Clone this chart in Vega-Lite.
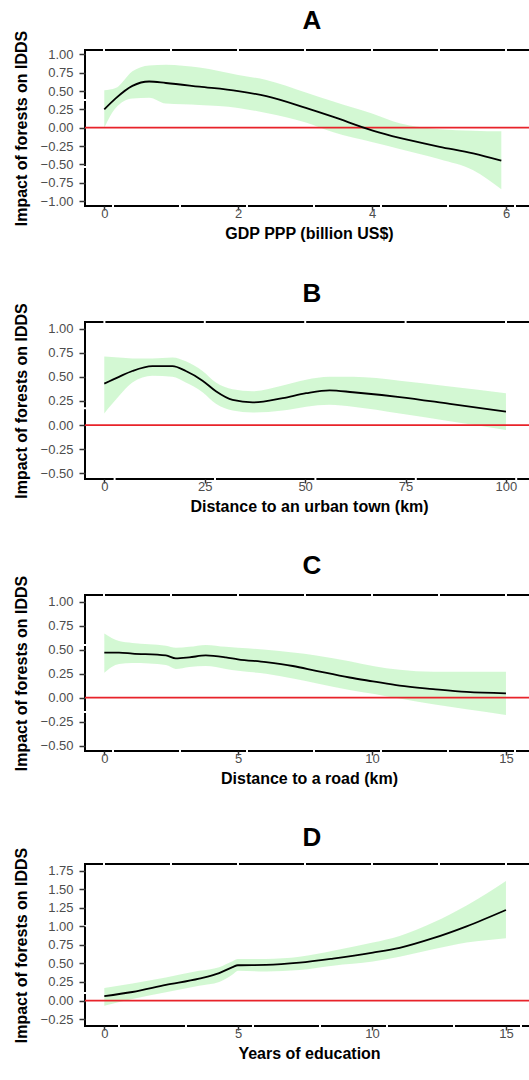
{
  "$schema": "https://vega.github.io/schema/vega-lite/v6.json",
  "padding": {"left": 12, "top": 7, "right": 0, "bottom": 0},
  "background": "white",
  "datasets": {
    "a": [
      {"x": 0, "fit": 0.25, "lo": 0.0, "hi": 0.51},
      {"x": 0.17, "fit": 0.40, "lo": 0.27, "hi": 0.54},
      {"x": 0.42, "fit": 0.57, "lo": 0.40, "hi": 0.77},
      {"x": 0.67, "fit": 0.63, "lo": 0.41, "hi": 0.85},
      {"x": 0.92, "fit": 0.61, "lo": 0.33, "hi": 0.86},
      {"x": 1.42, "fit": 0.56, "lo": 0.31, "hi": 0.82},
      {"x": 2.0, "fit": 0.50, "lo": 0.27, "hi": 0.72},
      {"x": 2.42, "fit": 0.43, "lo": 0.20, "hi": 0.65},
      {"x": 3.01, "fit": 0.27, "lo": 0.07, "hi": 0.48},
      {"x": 3.41, "fit": 0.15, "lo": -0.06, "hi": 0.36},
      {"x": 4.01, "fit": -0.04, "lo": -0.20, "hi": 0.19},
      {"x": 4.41, "fit": -0.14, "lo": -0.29, "hi": 0.06},
      {"x": 5.01, "fit": -0.26, "lo": -0.43, "hi": -0.02},
      {"x": 5.51, "fit": -0.35, "lo": -0.58, "hi": -0.04},
      {"x": 5.93, "fit": -0.45, "lo": -0.84, "hi": -0.05}
    ],
    "b": [
      {"x": 0, "fit": 0.43, "lo": 0.12, "hi": 0.71},
      {"x": 3.66, "fit": 0.50, "lo": 0.30, "hi": 0.70},
      {"x": 6.99, "fit": 0.56, "lo": 0.44, "hi": 0.69},
      {"x": 11.98, "fit": 0.61, "lo": 0.51, "hi": 0.69},
      {"x": 16.97, "fit": 0.61, "lo": 0.50, "hi": 0.70},
      {"x": 20.3, "fit": 0.56, "lo": 0.44, "hi": 0.66},
      {"x": 24.46, "fit": 0.46, "lo": 0.34, "hi": 0.56},
      {"x": 27.79, "fit": 0.35, "lo": 0.22, "hi": 0.44},
      {"x": 31.95, "fit": 0.26, "lo": 0.15, "hi": 0.37},
      {"x": 36.94, "fit": 0.235, "lo": 0.13, "hi": 0.35},
      {"x": 44.43, "fit": 0.28, "lo": 0.15, "hi": 0.41},
      {"x": 50.25, "fit": 0.33, "lo": 0.19, "hi": 0.47},
      {"x": 56.08, "fit": 0.36, "lo": 0.21, "hi": 0.50},
      {"x": 61.9, "fit": 0.34, "lo": 0.19, "hi": 0.50},
      {"x": 73.55, "fit": 0.29, "lo": 0.12, "hi": 0.46},
      {"x": 86.03, "fit": 0.22, "lo": 0.04, "hi": 0.40},
      {"x": 100, "fit": 0.14, "lo": -0.05, "hi": 0.33}
    ],
    "c": [
      {"x": 0, "fit": 0.47, "lo": 0.26, "hi": 0.67},
      {"x": 0.55, "fit": 0.47, "lo": 0.35, "hi": 0.59},
      {"x": 1.05, "fit": 0.46, "lo": 0.36, "hi": 0.57},
      {"x": 2.30, "fit": 0.44, "lo": 0.34, "hi": 0.54},
      {"x": 2.67, "fit": 0.41, "lo": 0.30, "hi": 0.52},
      {"x": 3.17, "fit": 0.42, "lo": 0.32, "hi": 0.53},
      {"x": 3.79, "fit": 0.44, "lo": 0.33, "hi": 0.55},
      {"x": 4.54, "fit": 0.42, "lo": 0.30, "hi": 0.53},
      {"x": 4.99, "fit": 0.40, "lo": 0.28, "hi": 0.52},
      {"x": 6.04, "fit": 0.37, "lo": 0.25, "hi": 0.50},
      {"x": 7.04, "fit": 0.33, "lo": 0.20, "hi": 0.47},
      {"x": 7.91, "fit": 0.28, "lo": 0.15, "hi": 0.44},
      {"x": 9.16, "fit": 0.21, "lo": 0.08, "hi": 0.38},
      {"x": 10.03, "fit": 0.17, "lo": 0.04, "hi": 0.33},
      {"x": 11.03, "fit": 0.125, "lo": -0.01, "hi": 0.29},
      {"x": 12.28, "fit": 0.09, "lo": -0.07, "hi": 0.27},
      {"x": 13.53, "fit": 0.06, "lo": -0.12, "hi": 0.27},
      {"x": 15, "fit": 0.045, "lo": -0.18, "hi": 0.27}
    ],
    "d": [
      {"x": 0, "fit": 0.06, "lo": -0.07, "hi": 0.17},
      {"x": 1.05, "fit": 0.115, "lo": 0.02, "hi": 0.23},
      {"x": 2.30, "fit": 0.21, "lo": 0.11, "hi": 0.31},
      {"x": 3.54, "fit": 0.295, "lo": 0.20, "hi": 0.40},
      {"x": 4.29, "fit": 0.37, "lo": 0.25, "hi": 0.45},
      {"x": 4.79, "fit": 0.45, "lo": 0.35, "hi": 0.53},
      {"x": 4.99, "fit": 0.475, "lo": 0.40, "hi": 0.56},
      {"x": 6.04, "fit": 0.48, "lo": 0.39, "hi": 0.56},
      {"x": 7.29, "fit": 0.51, "lo": 0.41, "hi": 0.59},
      {"x": 8.54, "fit": 0.565, "lo": 0.47, "hi": 0.67},
      {"x": 10.03, "fit": 0.645, "lo": 0.525, "hi": 0.78},
      {"x": 11.03, "fit": 0.71, "lo": 0.59, "hi": 0.87},
      {"x": 12.28, "fit": 0.84, "lo": 0.69, "hi": 1.05},
      {"x": 13.53, "fit": 1.0, "lo": 0.78, "hi": 1.28},
      {"x": 15, "fit": 1.22, "lo": 0.84, "hi": 1.61}
    ],
    "zero": [{"z": 0}]
  },
  "vconcat": [
    {
      "title": "A",
      "width": 448,
      "height": 156,
      "view": {"stroke": "black", "strokeWidth": 2, "strokeDash": [65, 2], "strokeDashOffset": 47},
      "layer": [
        {
          "data": {"name": "a"},
          "mark": {"type": "area", "color": "#90EE90", "opacity": 0.4, "interpolate": "monotone"},
          "encoding": {
            "x": {"field": "x", "type": "quantitative", "scale": {"domain": [-0.288, 6.403], "nice": false, "zero": false},
                  "axis": {"values": [0, 2, 4, 6], "format": "d", "title": "GDP PPP (billion US$)"}},
            "y": {"field": "lo", "type": "quantitative", "scale": {"domain": [-1.068, 1.06], "nice": false, "zero": false},
                  "axis": {"values": [-1, -0.75, -0.5, -0.25, 0, 0.25, 0.5, 0.75, 1], "tickCount": 30, "format": ".2f", "title": "Impact of forests on IDDS"}},
            "y2": {"field": "hi"}
          }
        },
        {
          "data": {"name": "zero"},
          "mark": {"type": "rule", "color": "#e8232a", "strokeWidth": 1.8},
          "encoding": {"y": {"field": "z", "type": "quantitative"}}
        },
        {
          "data": {"name": "a"},
          "mark": {"type": "line", "color": "black", "strokeWidth": 1.8, "interpolate": "monotone"},
          "encoding": {
            "x": {"field": "x", "type": "quantitative"},
            "y": {"field": "fit", "type": "quantitative"}
          }
        }
      ]
    },
    {
      "title": "B",
      "width": 448,
      "height": 157,
      "view": {"stroke": "black", "strokeWidth": 2, "strokeDash": [98.4, 2], "strokeDashOffset": 80},
      "layer": [
        {
          "data": {"name": "b"},
          "mark": {"type": "area", "color": "#90EE90", "opacity": 0.4, "interpolate": "monotone"},
          "encoding": {
            "x": {"field": "x", "type": "quantitative", "scale": {"domain": [-4.8, 106.73], "nice": false, "zero": false},
                  "axis": {"values": [0, 25, 50, 75, 100], "format": "d", "title": "Distance to an urban town (km)"}},
            "y": {"field": "lo", "type": "quantitative", "scale": {"domain": [-0.559, 1.068], "nice": false, "zero": false},
                  "axis": {"values": [-0.5, -0.25, 0, 0.25, 0.5, 0.75, 1], "tickCount": 30, "format": ".2f", "title": "Impact of forests on IDDS"}},
            "y2": {"field": "hi"}
          }
        },
        {
          "data": {"name": "zero"},
          "mark": {"type": "rule", "color": "#e8232a", "strokeWidth": 1.8},
          "encoding": {"y": {"field": "z", "type": "quantitative"}}
        },
        {
          "data": {"name": "b"},
          "mark": {"type": "line", "color": "black", "strokeWidth": 1.8, "interpolate": "monotone"},
          "encoding": {
            "x": {"field": "x", "type": "quantitative"},
            "y": {"field": "fit", "type": "quantitative"}
          }
        }
      ]
    },
    {
      "title": "C",
      "width": 448,
      "height": 156,
      "view": {"stroke": "black", "strokeWidth": 2, "strokeDash": [65, 2], "strokeDashOffset": 47},
      "layer": [
        {
          "data": {"name": "c"},
          "mark": {"type": "area", "color": "#90EE90", "opacity": 0.4, "interpolate": "monotone"},
          "encoding": {
            "x": {"field": "x", "type": "quantitative", "scale": {"domain": [-0.721, 16.01], "nice": false, "zero": false},
                  "axis": {"values": [0, 5, 10, 15], "format": "d", "title": "Distance to a road (km)"}},
            "y": {"field": "lo", "type": "quantitative", "scale": {"domain": [-0.556, 1.07], "nice": false, "zero": false},
                  "axis": {"values": [-0.5, -0.25, 0, 0.25, 0.5, 0.75, 1], "tickCount": 30, "format": ".2f", "title": "Impact of forests on IDDS"}},
            "y2": {"field": "hi"}
          }
        },
        {
          "data": {"name": "zero"},
          "mark": {"type": "rule", "color": "#e8232a", "strokeWidth": 1.8},
          "encoding": {"y": {"field": "z", "type": "quantitative"}}
        },
        {
          "data": {"name": "c"},
          "mark": {"type": "line", "color": "black", "strokeWidth": 1.8, "interpolate": "monotone"},
          "encoding": {
            "x": {"field": "x", "type": "quantitative"},
            "y": {"field": "fit", "type": "quantitative"}
          }
        }
      ]
    },
    {
      "title": "D",
      "width": 448,
      "height": 162,
      "view": {"stroke": "black", "strokeWidth": 2, "strokeDash": [65, 2], "strokeDashOffset": 47},
      "layer": [
        {
          "data": {"name": "d"},
          "mark": {"type": "area", "color": "#90EE90", "opacity": 0.4, "interpolate": "monotone"},
          "encoding": {
            "x": {"field": "x", "type": "quantitative", "scale": {"domain": [-0.721, 16.01], "nice": false, "zero": false},
                  "axis": {"values": [0, 5, 10, 15], "format": "d", "title": "Years of education"}},
            "y": {"field": "lo", "type": "quantitative", "scale": {"domain": [-0.343, 1.839], "nice": false, "zero": false},
                  "axis": {"values": [-0.25, 0, 0.25, 0.5, 0.75, 1, 1.25, 1.5, 1.75], "tickCount": 30, "format": ".2f", "title": "Impact of forests on IDDS"}},
            "y2": {"field": "hi"}
          }
        },
        {
          "data": {"name": "zero"},
          "mark": {"type": "rule", "color": "#e8232a", "strokeWidth": 1.8},
          "encoding": {"y": {"field": "z", "type": "quantitative"}}
        },
        {
          "data": {"name": "d"},
          "mark": {"type": "line", "color": "black", "strokeWidth": 1.8, "interpolate": "monotone"},
          "encoding": {
            "x": {"field": "x", "type": "quantitative"},
            "y": {"field": "fit", "type": "quantitative"}
          }
        }
      ]
    }
  ],
  "spacing": 37,
  "config": {
    "font": "Liberation Sans",
    "axis": {
      "domain": false,
      "grid": false,
      "labelFont": "Liberation Sans",
      "labelFontSize": 13,
      "labelColor": "#4d4d4d",
      "labelOverlap": false,
      "tickColor": "#333333",
      "tickWidth": 1.5,
      "titleFont": "Liberation Sans",
      "titleFontSize": 16,
      "titleFontWeight": "bold",
      "titleColor": "black"
    },
    "axisX": {"tickSize": 4, "labelPadding": -3, "titlePadding": 5},
    "axisY": {"tickSize": 6, "labelPadding": 6, "titlePadding": 11},
    "title": {"font": "Liberation Sans", "fontSize": 26, "fontWeight": "bold", "color": "black", "anchor": "middle", "offset": -4, "dx": 3}
  }
}
